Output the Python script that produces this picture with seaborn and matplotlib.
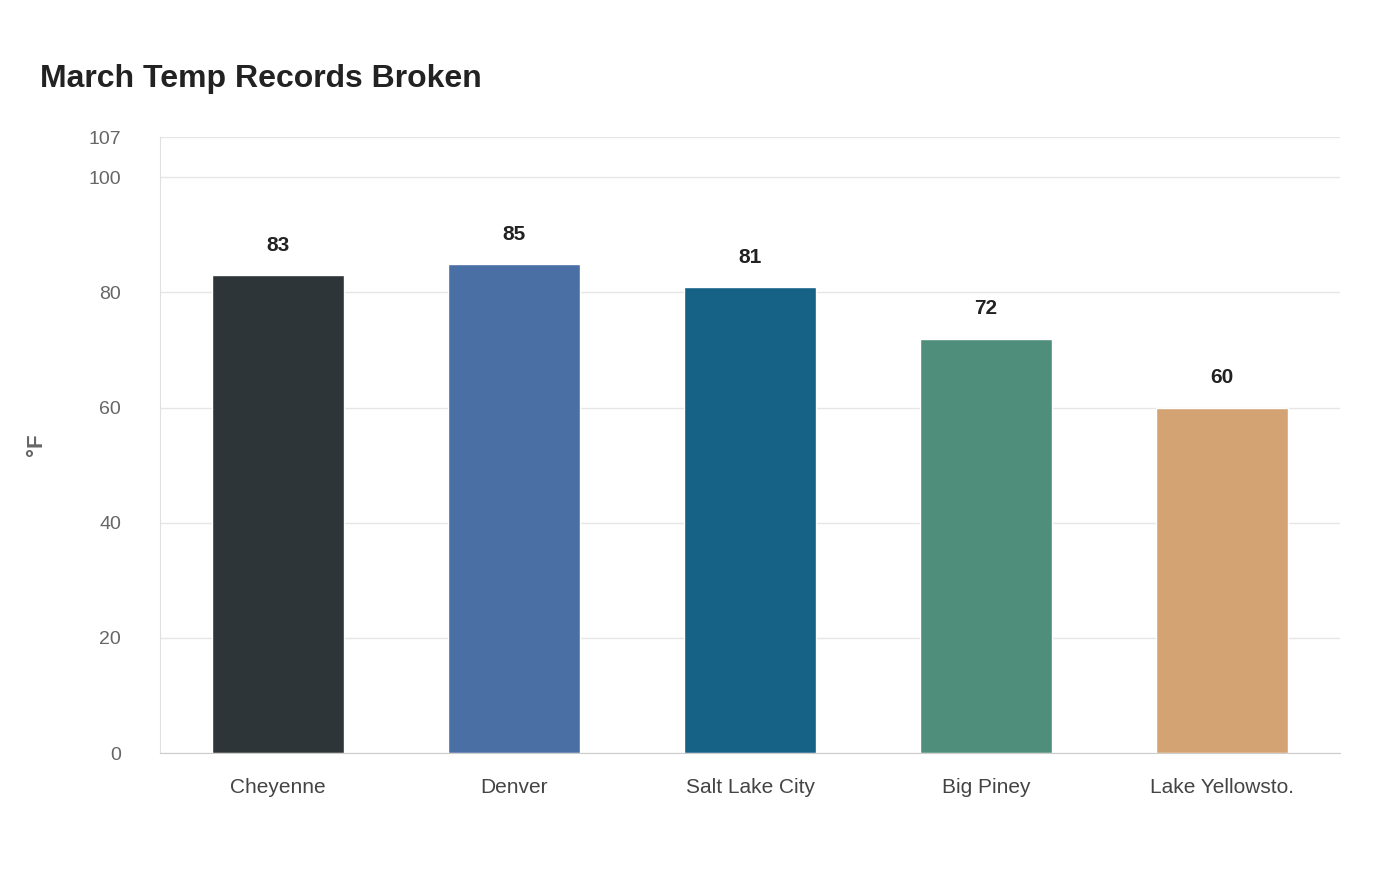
import matplotlib
matplotlib.use("Agg")
import matplotlib.pyplot as plt
import seaborn as sns
import pandas as pd

cities = ["Cheyenne", "Denver", "Salt Lake City", "Big Piney", "Lake Yellowsto."]
temps = [83, 85, 81, 72, 60]
colors = ["#2d3538", "#4a6fa5", "#166186", "#4e8e7b", "#d4a373"]
yticks = [0, 20, 40, 60, 80, 100, 107]

sns.set_style("white")
plt.rcParams['font.family'] = ['Liberation Sans', 'DejaVu Sans']

df = pd.DataFrame({"city": cities, "temp": temps})
fig = plt.figure(figsize=(14, 8.8), dpi=100)
ax = fig.add_axes([0.1143, 0.1443, 0.8429, 0.7])
sns.barplot(data=df, x="city", y="temp", hue="city", palette=colors, legend=False,
            width=0.56, ax=ax, saturation=1)
ax.set_ylim(0, 107)
ax.set_xlim(-0.5, 4.5)
ax.set_yticks(yticks)
ax.yaxis.grid(True, color="#e6e6e6", linewidth=1)
ax.set_axisbelow(True)
for s in ["top", "right"]:
    ax.spines[s].set_visible(False)
ax.spines["left"].set_color("#e0e0e0")
ax.spines["bottom"].set_color("#cccccc")
ax.tick_params(axis="y", labelsize=14, colors="#666666", length=0, pad=28)
ax.tick_params(axis="x", labelsize=15, colors="#444444", length=0, pad=18)
ax.set_xlabel("")
ax.set_ylabel("°F", fontsize=16, fontweight="bold", color="#666666", labelpad=30)
for i, v in enumerate(temps):
    ax.text(i, v + 3.5, str(v), ha="center", va="bottom", fontsize=15,
            fontweight="bold", color="#222222")
fig.text(0.0286, 0.91, "March Temp Records Broken", fontsize=23, fontweight="bold",
         color="#222222", ha="left", va="center")
fig.savefig("out.png", dpi=100, facecolor="white")
